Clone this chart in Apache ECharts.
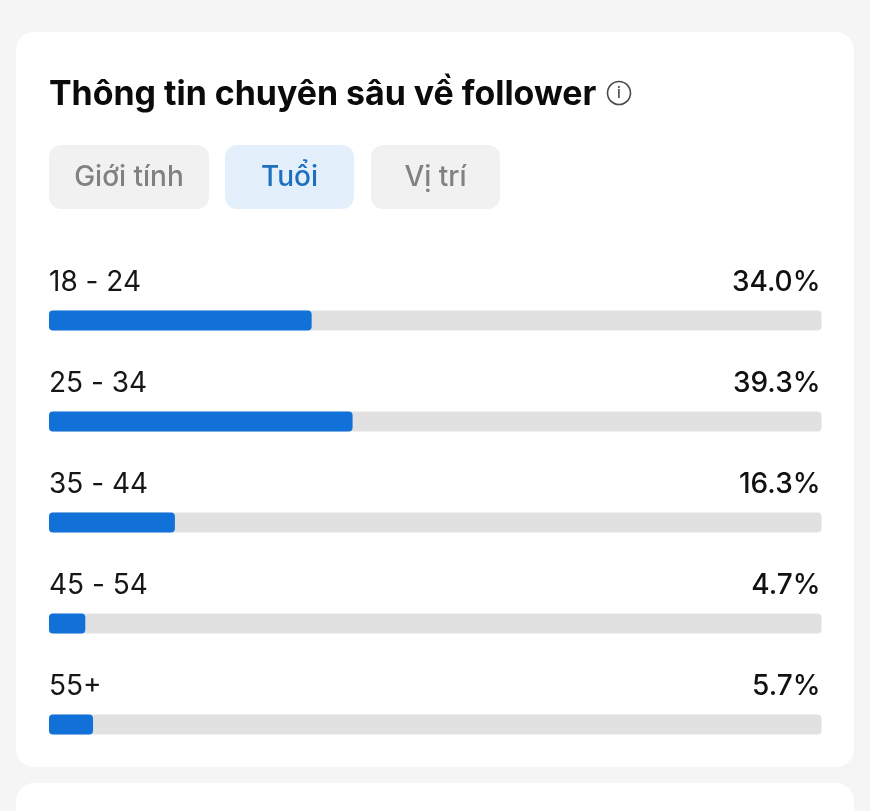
<!DOCTYPE html>
<html>
<head>
<meta charset="utf-8">
<style>html,body{margin:0;padding:0;background:#f5f5f5}#c{width:870px;height:811px}</style>
<script src="https://cdn.jsdelivr.net/npm/echarts@6/dist/echarts.min.js"></script>
</head>
<body>
<div id="c"></div>
<script>
const categories = ['18 - 24', '25 - 34', '35 - 44', '45 - 54', '55+'];
const values = [34.0, 39.3, 16.3, 4.7, 5.7];
const trackValues = [100, 100, 100, 100, 100];
const tabs = ['Giới tính', 'Tuổi', 'Vị trí'];
const titleText = 'Thông tin chuyên sâu về follower';

const FONT = 'Inter, "Noto Sans", sans-serif';
const tabBoxes = [[49, 160], [225, 129], [371, 129]];

const graphics = [
  {type:'rect', shape:{x:16,y:32,width:838,height:735,r:18}, style:{fill:'#ffffff'}, z:-10},
  {type:'rect', shape:{x:16,y:783,width:838,height:60,r:18}, style:{fill:'#ffffff'}, z:-10},
  {type:'text', x:49, y:95, style:{text:titleText, font:'700 33.9px '+FONT, fill:'#0b0b0b', textVerticalAlign:'middle'}, z:5},
  {type:'circle', shape:{cx:619,cy:93,r:11.5}, style:{fill:'none', stroke:'#4a4a4a', lineWidth:1.6}, z:5},
  {type:'text', x:619, y:93, style:{text:'i', font:'500 15px '+FONT, fill:'#4a4a4a', textAlign:'center', textVerticalAlign:'middle'}, z:5}
];
tabs.forEach((t,i)=>{
  const active = i===1;
  graphics.push({type:'rect', shape:{x:tabBoxes[i][0],y:145,width:tabBoxes[i][1],height:64,r:12},
    style:{fill: active?'#e3effa':'#f1f1f1'}, z:-5});
  graphics.push({type:'text', x:tabBoxes[i][0]+tabBoxes[i][1]/2, y:178,
    style:{text:t, font:'500 28px '+FONT, fill: active?'#1f6fc0':'#818181', textAlign:'center', textVerticalAlign:'middle'}, z:5});
});

const chart = echarts.init(document.getElementById('c'), null, {renderer:'canvas'});
chart.setOption({
  animation:false,
  backgroundColor:'#f5f5f5',
  textStyle:{fontFamily:FONT},
  graphic:{elements:graphics},
  grid:{left:49, top:270, width:772.5, height:505, containLabel:false},
  xAxis:{type:'value', min:0, max:100, show:false},
  yAxis:[
    {type:'category', inverse:true, data:categories, position:'left',
     axisLine:{show:false}, axisTick:{show:false}, splitLine:{show:false},
     axisLabel:{inside:true, margin:0, align:'left', verticalAlign:'bottom', padding:[0,0,24,0],
       fontFamily:FONT, fontSize:28, color:'#161616'}},
    {type:'category', inverse:true, data:values.map(v=>v.toFixed(1)+'%'), position:'right',
     axisLine:{show:false}, axisTick:{show:false}, splitLine:{show:false},
     axisLabel:{inside:true, margin:1, align:'right', verticalAlign:'bottom', padding:[0,0,24,0],
       fontFamily:FONT, fontSize:28, fontWeight:500, color:'#111111'}}
  ],
  series:[
    {type:'bar', name:'track', yAxisIndex:0, data:trackValues, barWidth:20, barGap:'-100%', silent:true,
     itemStyle:{color:'#e1e1e1', borderRadius:4}},
    {type:'bar', name:'share', yAxisIndex:0, data:values, barWidth:20, barGap:'-100%',
     itemStyle:{color:'#1271d8', borderRadius:4}}
  ]
});
</script>
</body>
</html>
